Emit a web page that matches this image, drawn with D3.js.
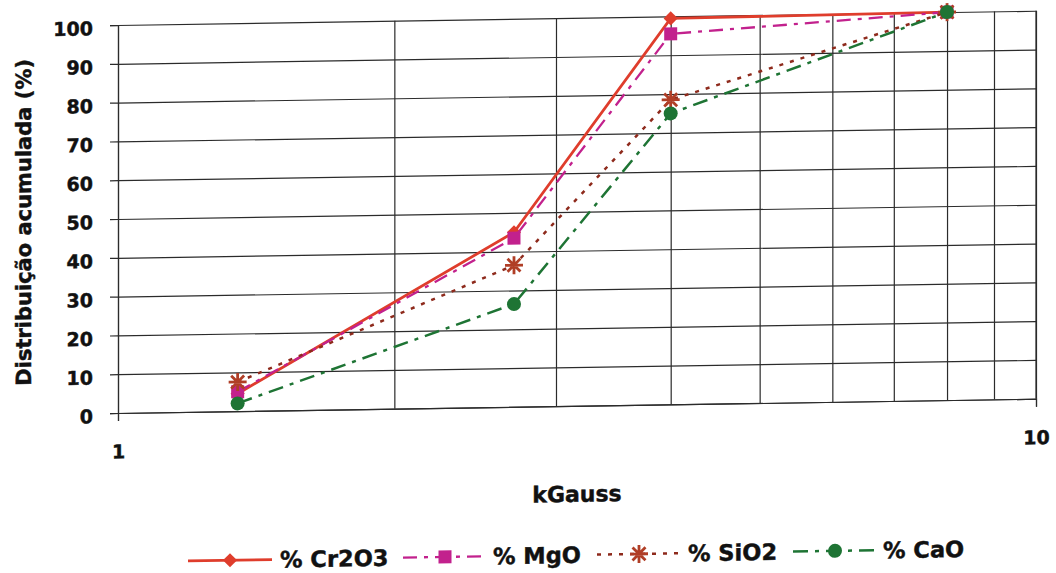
<!DOCTYPE html>
<html>
<head>
<meta charset="utf-8">
<script src="https://cdn.jsdelivr.net/npm/d3@7/dist/d3.min.js"></script>
<style>
  html, body { margin: 0; padding: 0; background: #fff; }
  svg { display: block; }
  text { font-family: "DejaVu Sans", "Liberation Sans", Arial, sans-serif; font-weight: bold; fill: #111; stroke: #111; stroke-width: 0.45px; }
</style>
</head>
<body>
<svg id="chart" width="1056" height="573"></svg>
<script>
// Magnetic field (kGauss) at each separation step
const fields = [1.35, 2.7, 4, 8];
// Cumulative distribution (%) per oxide
const cr2o3 = [4.5, 45, 99.5, 100];
const mgo   = [5, 43.5, 95.5, 100];
const sio2  = [7.5, 36.5, 78.5, 100];
const cao   = [2, 26.5, 75, 100];
const seriesNames = ["% Cr2O3", "% MgO", "% SiO2", "% CaO"];
const yTicks = [0, 10, 20, 30, 40, 50, 60, 70, 80, 90, 100];
const xGrid = [1, 2, 3, 4, 5, 6, 7, 8, 9, 10];
const xLabels = [1, 10];

const FONT = "DejaVu Sans, Liberation Sans, Arial, sans-serif";
const GRID = "#2b2b2b";

const styles = [
  { color: "#df3d2c", dash: null,          width: 2.8, marker: "diamond" },
  { color: "#c2218d", dash: "14,7,4,7",    width: 2.3, marker: "square" },
  { color: "#8e2a1c", dash: "4,7",         width: 2.5, marker: "asterisk", markerColor: "#b03e26" },
  { color: "#1e7434", dash: "15,7,4,7",    width: 2.5, marker: "circle" }
];
const values = [cr2o3, mgo, sio2, cao];

const svg = d3.select("#chart");
// slight tilt of the whole figure
const root = svg.append("g").attr("transform", "translate(118,0) skewY(-0.89) translate(-118,0)");

const x = d3.scaleLog().domain([1, 10]).range([118, 1036]);
const y = d3.scaleLinear().domain([0, 100]).range([413, 25]);

// vertical grid
root.append("g")
  .attr("transform", `translate(0,${y(0)})`)
  .call(d3.axisBottom(x).tickValues(xGrid).tickSize(-(y(0) - y(100))).tickFormat(""))
  .call(g => g.select(".domain").remove())
  .call(g => g.selectAll(".tick line").attr("stroke", GRID).attr("stroke-width", 1.2));

// horizontal grid + y labels
root.append("g")
  .attr("transform", `translate(${x(1)},0)`)
  .call(d3.axisLeft(y).tickValues(yTicks).tickSize(-(x(10) - x(1))).tickPadding(25))
  .call(g => g.select(".domain").remove())
  .call(g => g.selectAll(".tick line").attr("stroke", GRID).attr("stroke-width", 1.2))
  .call(g => g.selectAll(".tick text").attr("font-size", 19).attr("font-weight", "bold")
      .attr("dy", "0.5em").attr("font-family", FONT).attr("fill", "#111"));

// small outward ticks on the left axis
root.append("g")
  .attr("transform", `translate(${x(1)},0)`)
  .call(d3.axisLeft(y).tickValues(yTicks).tickSize(8).tickFormat(""))
  .call(g => g.select(".domain").attr("stroke", GRID).attr("stroke-width", 1.2))
  .call(g => g.selectAll(".tick line").attr("stroke", GRID).attr("stroke-width", 1.2));

// x axis with labels at decades
root.append("g")
  .attr("transform", `translate(0,${y(0)})`)
  .call(d3.axisBottom(x).tickValues(xLabels).tickSize(8).tickPadding(24).tickFormat(d3.format("d")))
  .call(g => g.select(".domain").attr("stroke", GRID).attr("stroke-width", 1.2))
  .call(g => g.selectAll(".tick line").attr("stroke", GRID).attr("stroke-width", 1.2))
  .call(g => g.selectAll(".tick text").attr("font-size", 19).attr("font-weight", "bold")
      .attr("font-family", FONT).attr("fill", "#111"));

// right border
root.append("line")
  .attr("x1", x(10)).attr("x2", x(10)).attr("y1", y(100)).attr("y2", y(0))
  .attr("stroke", GRID).attr("stroke-width", 1.2);

// axis titles
root.append("text")
  .attr("transform", `translate(31,221) rotate(-90)`)
  .attr("text-anchor", "middle").attr("font-size", 21)
  .text("Distribuição acumulada (%)");
root.append("text")
  .attr("x", 577).attr("y", 509)
  .attr("text-anchor", "middle").attr("font-size", 22)
  .text("kGauss");

function drawMarker(g, kind, color) {
  if (kind === "diamond") {
    g.append("rect").attr("x", -5).attr("y", -5).attr("width", 10).attr("height", 10)
      .attr("transform", "rotate(45)").attr("fill", color);
  } else if (kind === "square") {
    g.append("rect").attr("x", -6.5).attr("y", -6.5).attr("width", 13).attr("height", 13).attr("fill", color);
  } else if (kind === "circle") {
    g.append("circle").attr("r", 7).attr("fill", color);
  } else if (kind === "asterisk") {
    const r = 9;
    const k = r * 0.72;
    const p = `M${-r},0L${r},0M0,${-r}L0,${r}M${-k},${-k}L${k},${k}M${-k},${k}L${k},${-k}`;
    g.append("path").attr("d", p).attr("stroke", color).attr("stroke-width", 2.8).attr("fill", "none");
  }
}

const line = d3.line().x((d, i) => x(fields[i])).y(d => y(d));

values.forEach((vals, si) => {
  const st = styles[si];
  const sg = root.append("g");
  sg.append("path")
    .datum(vals)
    .attr("d", line)
    .attr("fill", "none")
    .attr("stroke", st.color)
    .attr("stroke-width", st.width)
    .attr("stroke-dasharray", st.dash);
  vals.forEach((v, i) => {
    const mg = sg.append("g").attr("transform", `translate(${x(fields[i])},${y(v)})`);
    drawMarker(mg, st.marker, st.markerColor || st.color);
  });
});

// legend
const legendX = [188, 403, 597, 793];
const legendTextX = [280, 493, 688, 883];
const legend = root.append("g").attr("transform", "translate(0,562)");
seriesNames.forEach((name, i) => {
  const st = styles[i];
  const lg = legend.append("g");
  lg.append("line").attr("x1", legendX[i]).attr("x2", legendX[i] + 84).attr("y1", 0).attr("y2", 0)
    .attr("stroke", st.color).attr("stroke-width", st.width).attr("stroke-dasharray", st.dash);
  const mg = lg.append("g").attr("transform", `translate(${legendX[i] + 42},0)`);
  drawMarker(mg, st.marker, st.markerColor || st.color);
  lg.append("text").attr("x", legendTextX[i]).attr("y", 8).attr("font-size", 22.5).text(name);
});
</script>
</body>
</html>
